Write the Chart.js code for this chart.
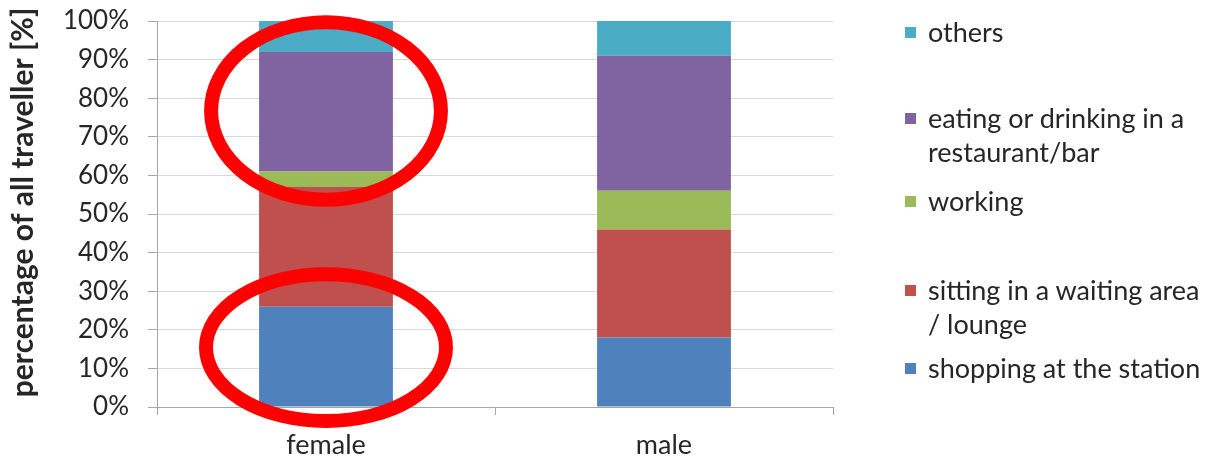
<!DOCTYPE html>
<html>
<head>
<meta charset="utf-8">
<script src="https://cdn.jsdelivr.net/npm/chart.js@4.4.1/dist/chart.umd.min.js"></script>
<style>
  html, body { margin: 0; padding: 0; background: #fff; }
  #wrap { position: relative; width: 1212px; height: 469px; overflow: hidden; }
  #c { position: absolute; left: 0; top: 0; }
  .lg { position: absolute; left: 905px; font-family: Lato, "Open Sans", sans-serif; font-size: 27px; color: #262626; line-height: 34px; }
  .lg i { position: absolute; left: 0; top: 12px; width: 11px; height: 11px; }
  .lg span { display: block; margin-left: 23px; white-space: nowrap; }
</style>
</head>
<body>
<div id="wrap">
  <canvas id="c" width="1212" height="469"></canvas>
</div>
<script>
// Activity shares by gender (percent of all travellers)
const categories = ['female', 'male'];
const seriesNames = [
  'shopping at the station',
  'sitting in a waiting area / lounge',
  'working',
  'eating or drinking in a restaurant/bar',
  'others'
];
const legendLines = [
  ['shopping at the station'],
  ['sitting in a waiting area', '/ lounge'],
  ['working'],
  ['eating or drinking in a', 'restaurant/bar'],
  ['others']
];
const shopping = [26, 18];
const sitting  = [31, 28];
const working  = [4, 10];
const eating   = [31, 35];
const others   = [8, 9];
const yTickValues = [0, 10, 20, 30, 40, 50, 60, 70, 80, 90, 100];
const yAxisTitle = 'percentage of all traveller [%]';

const seriesColors = ['#4F81BD', '#C0504D', '#9BBB59', '#8064A2', '#4BACC6'];
const seriesValues = [shopping, sitting, working, eating, others];

// Highlight rings around the female column (centre value, y radius in %)
const highlightCategory = 'female';
const highlightRings = [
  { center: 76.7, radius: 23.0, widthFactor: 0.68 },
  { center: 15.4, radius: 19.0, widthFactor: 0.71 }
];

const FONT = 'Lato, "Open Sans", sans-serif';
const TEXT = '#262626';
const AXIS = '#a6a6a6';

const ringPlugin = {
  id: 'rings',
  afterDatasetsDraw(chart) {
    const { ctx, scales: { x, y } } = chart;
    const idx = categories.indexOf(highlightCategory);
    const cx = x.getPixelForValue(idx);
    const catWidth = x.getPixelForValue(1) - x.getPixelForValue(0);
    ctx.save();
    ctx.strokeStyle = '#ff0000';
    ctx.lineWidth = 14;
    highlightRings.forEach(r => {
      const cy = y.getPixelForValue(r.center);
      const ry = Math.abs(y.getPixelForValue(r.center + r.radius) - cy);
      const rx = catWidth * r.widthFactor / 2;
      ctx.beginPath();
      ctx.ellipse(cx, cy, rx, ry, 0, 0, Math.PI * 2);
      ctx.stroke();
    });
    ctx.restore();
  }
};

// Rotated y-axis title, centred slightly above the middle of the value range
const axisTitlePlugin = {
  id: 'axisTitle',
  afterDraw(chart) {
    const { ctx, scales: { y } } = chart;
    const cy = y.getPixelForValue(53);
    ctx.save();
    ctx.translate(23, cy);
    ctx.rotate(-Math.PI / 2);
    ctx.font = 'bold 30px ' + FONT;
    ctx.fillStyle = TEXT;
    ctx.textAlign = 'center';
    ctx.textBaseline = 'middle';
    ctx.fillText(yAxisTitle, 0, 0);
    ctx.restore();
  }
};

const chart = new Chart(document.getElementById('c'), {
  type: 'bar',
  data: {
    labels: categories,
    datasets: seriesNames.map((name, i) => ({
      label: name,
      data: seriesValues[i],
      backgroundColor: seriesColors[i],
      borderWidth: 0,
      barPercentage: 0.396,
      categoryPercentage: 1
    }))
  },
  options: {
    responsive: false,
    animation: false,
    layout: { padding: { top: 21, right: 379, bottom: 0, left: 0 } },
    plugins: { legend: { display: false }, tooltip: { enabled: false } },
    scales: {
      x: {
        stacked: true,
        grid: { offset: true, drawOnChartArea: false, drawTicks: true, tickLength: 8, color: AXIS, lineWidth: 1 },
        border: { color: AXIS },
        ticks: { font: { family: FONT, size: 27 }, color: TEXT, padding: 14 },
        afterFit: s => { s.height = 62; s.paddingLeft = 0; s.paddingRight = 0; }
      },
      y: {
        stacked: true,
        min: 0,
        max: 100,
        afterBuildTicks: s => { s.ticks = yTickValues.map(v => ({ value: v })); },
        ticks: { font: { family: FONT, size: 26 }, color: TEXT, padding: 19, callback: v => v + '%' },
        grid: { color: '#d9d9d9', tickColor: AXIS, tickLength: 9 },
        border: { color: AXIS },
        afterFit: s => { s.width = 157; s.paddingTop = 0; s.paddingBottom = 0; }
      }
    }
  },
  plugins: [ringPlugin, axisTitlePlugin]
});

// Legend at right, listed top-down (reverse of stacking order)
const legendTops = [351, 273, 184, 101, 15];
const wrap = document.getElementById('wrap');
legendLines.forEach((lines, i) => {
  const d = document.createElement('div');
  d.className = 'lg';
  d.style.top = legendTops[i] + 'px';
  const sq = document.createElement('i');
  sq.style.background = seriesColors[i];
  d.appendChild(sq);
  lines.forEach(t => {
    const s = document.createElement('span');
    s.textContent = t;
    d.appendChild(s);
  });
  wrap.appendChild(d);
});
</script>
</body>
</html>
